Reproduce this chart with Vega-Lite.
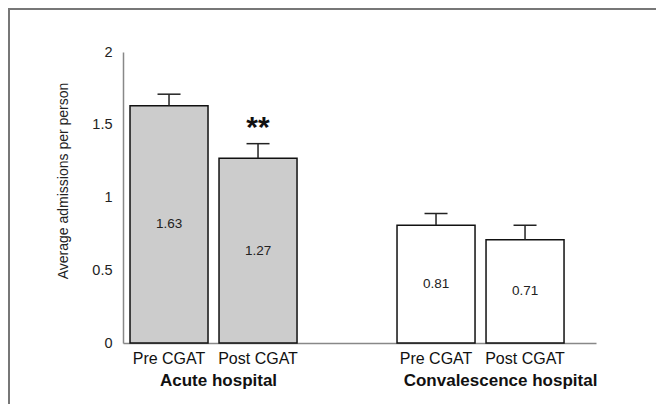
{
  "$schema": "https://vega.github.io/schema/vega-lite/v6.json",
  "width": 657,
  "height": 405,
  "autosize": "none",
  "padding": {"left": 9, "top": 9, "right": 0, "bottom": 0},
  "background": "white",
  "config": {
    "view": {"stroke": "#777777", "strokeWidth": 2},
    "font": "Liberation Sans"
  },
  "data": {
    "values": [
      {"site": "Acute hospital", "period": "Pre CGAT", "value": 1.63, "upper": 1.71, "sig": ""},
      {"site": "Acute hospital", "period": "Post CGAT", "value": 1.27, "upper": 1.37, "sig": "**"},
      {"site": "Convalescence hospital", "period": "Pre CGAT", "value": 0.81, "upper": 0.89, "sig": ""},
      {"site": "Convalescence hospital", "period": "Post CGAT", "value": 0.71, "upper": 0.81, "sig": ""}
    ]
  },
  "transform": [{"calculate": "datum.value / 2", "as": "mid"}],
  "encoding": {
    "x": {
      "field": "site",
      "type": "nominal",
      "sort": null,
      "scale": {"range": [114, 587], "paddingInner": 0.3745, "paddingOuter": 0.073, "align": 0.18},
      "axis": {
        "title": null,
        "orient": "bottom",
        "offset": -71,
        "ticks": false,
        "domainColor": "#888888",
        "domainWidth": 1.5,
        "labelAngle": 0,
        "labelFontWeight": "bold",
        "labelFontSize": 17,
        "labelColor": "#111111",
        "labelPadding": 29,
        "labelLimit": 0,
        "labelOffset": {"condition": {"test": "datum.value === 'Convalescence hospital'", "value": 20}, "value": 5}
      }
    },
    "xOffset": {
      "field": "period",
      "type": "nominal",
      "sort": ["Pre CGAT", "Post CGAT"],
      "scale": {"paddingInner": 0.1236, "paddingOuter": 0}
    }
  },
  "layer": [
    {
      "mark": {"type": "bar", "stroke": "#111111", "strokeWidth": 1.5},
      "encoding": {
        "y": {
          "field": "value",
          "type": "quantitative",
          "scale": {"domain": [0, 2], "range": [334, 43], "nice": false, "zero": true},
          "axis": {
            "title": "Average admissions per person",
            "offset": -114,
            "values": [0, 0.5, 1, 1.5, 2],
            "format": "~g",
            "ticks": false,
            "grid": false,
            "domainColor": "#888888",
            "domainWidth": 1.5,
            "labelFontSize": 14.5,
            "labelColor": "#222222",
            "labelPadding": 11,
            "titleFontSize": 14,
            "titleFontWeight": "normal",
            "titleColor": "#222222",
            "titleAngle": -90,
            "titleX": -60,
            "titleY": 171.5,
            "titleBaseline": "middle",
            "titleAlign": "center"
          }
        },
        "fill": {
          "field": "site",
          "type": "nominal",
          "scale": {"domain": ["Acute hospital", "Convalescence hospital"], "range": ["#cccccc", "#ffffff"]},
          "legend": null
        }
      }
    },
    {
      "mark": {"type": "rule", "stroke": "#222222", "strokeWidth": 1.5},
      "encoding": {
        "y": {"field": "value", "type": "quantitative"},
        "y2": {"field": "upper"}
      }
    },
    {
      "mark": {"type": "tick", "color": "#222222", "size": 23, "thickness": 1.5, "opacity": 1},
      "encoding": {
        "y": {"field": "upper", "type": "quantitative"}
      }
    },
    {
      "mark": {"type": "text", "fontSize": 30, "fontWeight": "bold", "baseline": "alphabetic", "dy": -7, "color": "#111111"},
      "encoding": {
        "y": {"field": "upper", "type": "quantitative"},
        "text": {"field": "sig"}
      }
    },
    {
      "mark": {"type": "text", "fontSize": 13.5, "baseline": "middle", "color": "#222222"},
      "encoding": {
        "y": {"field": "mid", "type": "quantitative"},
        "text": {"field": "value", "type": "quantitative", "format": ".2f"}
      }
    },
    {
      "mark": {"type": "text", "fontSize": 16, "baseline": "alphabetic", "dy": 21, "color": "#111111"},
      "encoding": {
        "y": {"datum": 0, "type": "quantitative"},
        "text": {"field": "period"}
      }
    }
  ]
}
